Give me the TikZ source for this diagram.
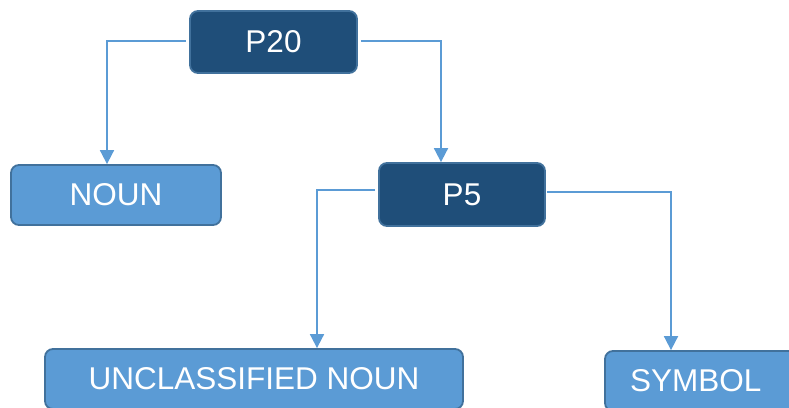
\documentclass[tikz,border=0pt]{standalone}
\usepackage{fontspec}
\setmainfont{Liberation Sans}
\usetikzlibrary{arrows.meta}
\definecolor{darkfill}{HTML}{1F4E79}
\definecolor{lightfill}{HTML}{5B9BD5}
\definecolor{boxedge}{HTML}{41719C}
\definecolor{linkcol}{HTML}{5B9BD5}
\begin{document}
\begin{tikzpicture}[x=1pt,y=-1pt,
  basebox/.style={rectangle, rounded corners=8pt, draw=boxedge, line width=1.8pt,
    text=white, inner sep=0pt, font=\fontsize{31.5}{36}\selectfont},
  darkbox/.style={basebox, fill=darkfill},
  lightbox/.style={basebox, fill=lightfill},
  link/.style={draw=linkcol, line width=1.8pt,
    -{Triangle[width=14pt,length=14pt]}}]
\useasboundingbox (0,0) rectangle (789,407);

% boxes
\node[darkbox, minimum width=167pt, minimum height=62pt] (p20) at (273.5,42) {P20};
\node[lightbox, minimum width=210pt, minimum height=60pt] (noun) at (116,195) {NOUN};
\node[darkbox, minimum width=166pt, minimum height=63pt] (p5) at (462,194.5) {P5};
\node[lightbox, minimum width=418pt, minimum height=60pt] (uncl) at (254,379) {UNCLASSIFIED NOUN};
\node[lightbox, minimum width=210pt, minimum height=60pt, text width=160pt,
      inner xsep=25pt, align=left] (symbol) at (710,381) {SYMBOL};

% connectors
\draw[link] ([xshift=-3pt,yshift=1pt]p20.west) -| ([xshift=-9pt]noun.north);
\draw[link] ([xshift=3pt,yshift=1pt]p20.east) -| ([xshift=-21pt]p5.north);
\draw[link] ([xshift=-3pt,yshift=4.5pt]p5.west) -| ([xshift=63pt]uncl.north);
\draw[link] ([xshift=1pt,yshift=2.5pt]p5.east) -| ([xshift=-39pt]symbol.north);
\end{tikzpicture}
\end{document}
